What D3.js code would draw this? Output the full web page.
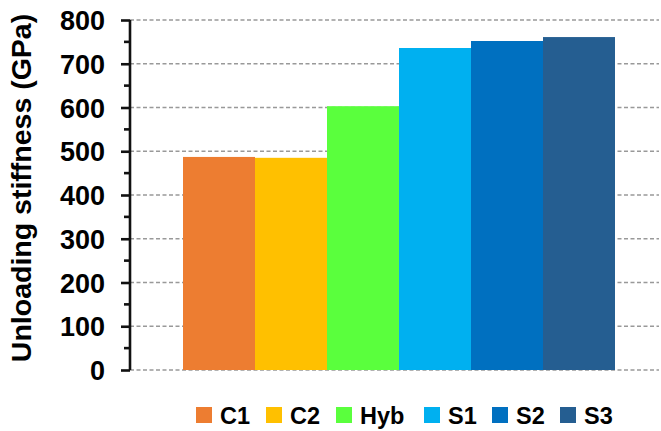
<!DOCTYPE html>
<meta charset="utf-8">
<script src="https://d3js.org/d3.v7.min.js"></script>
<style>
  body { margin: 0; background: #fff; }
</style>
<div id="chart"></div>
<script>
// data
var series = ["C1", "C2", "Hyb", "S1", "S2", "S3"];
var stiffness = [487, 485, 603, 736, 752, 761];
var colors = ["#ED7D31", "#FFC000", "#5AFF3D", "#00B0F0", "#0070C0", "#255E91"];
var yTicks = [0, 100, 200, 300, 400, 500, 600, 700, 800];
var yLabel = "Unloading stiffness (GPa)";

var width = 661, height = 431;

var svg = d3.select("#chart").append("svg")
  .attr("width", width)
  .attr("height", height)
  .style("font-family", "'Liberation Sans', Arial, sans-serif");

var axisX = 130, plotRight = 659;

var y = d3.scaleLinear().domain([0, 800]).range([370, 20]);
var x = d3.scaleBand().domain(series).range([183, 615]).padding(0);

// dashed grid lines
svg.append("g")
  .selectAll("line")
  .data(yTicks)
  .enter().append("line")
    .attr("x1", axisX)
    .attr("x2", plotRight)
    .attr("y1", d => y(d))
    .attr("y2", d => y(d))
    .attr("stroke", "#999")
    .attr("stroke-width", 1.3)
    .attr("stroke-dasharray", "4,2.5");

// bars
svg.append("g")
  .selectAll("rect")
  .data(series)
  .enter().append("rect")
    .attr("x", d => x(d))
    .attr("width", x.bandwidth())
    .attr("y", (d, i) => y(stiffness[i]))
    .attr("height", (d, i) => y(0) - y(stiffness[i]))
    .attr("fill", (d, i) => colors[i]);

// y axis with major and minor ticks
var yAxis = svg.append("g")
  .attr("transform", "translate(" + axisX + ",0)")
  .call(d3.axisLeft(y).tickValues(yTicks).tickSize(9).tickPadding(16));
yAxis.select(".domain").attr("stroke", "#111").attr("stroke-width", 2.6)
  .attr("d", "M0," + y(800) + "V" + y(0));
yAxis.selectAll(".tick line").attr("stroke", "#111").attr("stroke-width", 2.6);
yAxis.selectAll(".tick text")
  .attr("fill", "#000")
  .style("font-size", "27px")
  .style("font-weight", "bold")
  .attr("dy", "0.36em");

var minor = d3.range(50, 800, 100);
svg.append("g")
  .selectAll("line")
  .data(minor)
  .enter().append("line")
    .attr("x1", axisX - 6)
    .attr("x2", axisX)
    .attr("y1", d => y(d))
    .attr("y2", d => y(d))
    .attr("stroke", "#111")
    .attr("stroke-width", 2.6);

// y axis title
svg.append("text")
  .attr("transform", "translate(31,188) rotate(-90)")
  .attr("text-anchor", "middle")
  .style("font-size", "28.5px")
  .style("font-weight", "bold")
  .text(yLabel);

// legend
var legendX = [196, 266, 336, 424, 492, 560];
var legend = svg.append("g")
  .selectAll("g")
  .data(series)
  .enter().append("g")
    .attr("transform", (d, i) => "translate(" + legendX[i] + ",407)");
legend.append("rect")
  .attr("width", 16)
  .attr("height", 16)
  .attr("fill", (d, i) => colors[i]);
legend.append("text")
  .attr("x", 24)
  .attr("y", 17)
  .style("font-size", "23.5px")
  .style("font-weight", "bold")
  .text(d => d);
</script>
